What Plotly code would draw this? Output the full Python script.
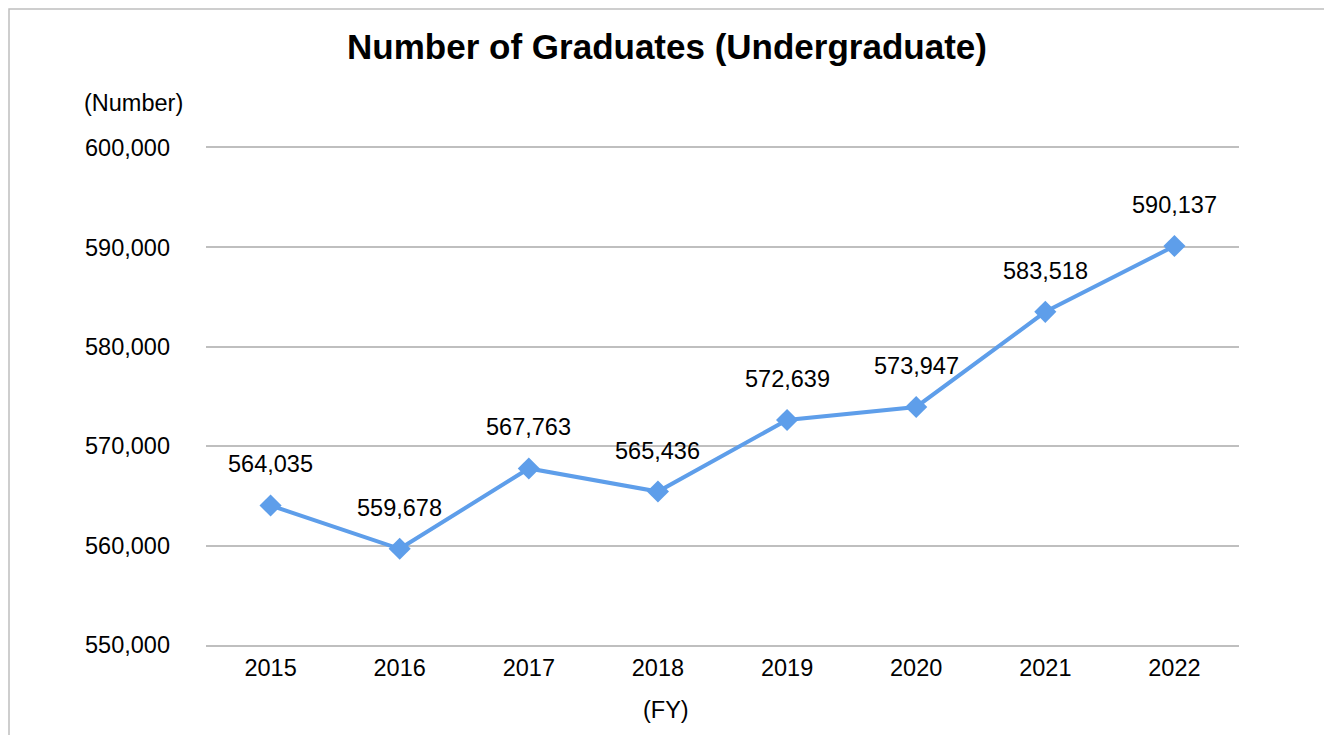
import plotly.graph_objects as go

years = ["2015", "2016", "2017", "2018", "2019", "2020", "2021", "2022"]
graduates = [564035, 559678, 567763, 565436, 572639, 573947, 583518, 590137]
y_ticks = [550000, 560000, 570000, 580000, 590000, 600000]
y_tick_labels = ["550,000", "560,000", "570,000", "580,000", "590,000", "600,000"]

W, H = 1332, 735
OFF = 8  # page body margin offset
L, R, T, B = 206 - OFF, 1239 - OFF, 148 - OFF, 645 - OFF
FONT = "Liberation Sans, Arial"
FS = 23.5


def px_x(px):
    return (px - OFF - L) / (R - L)


def px_y(py):
    return (B - (py - OFF)) / (B - T)


fig = go.Figure()
fig.add_trace(go.Scatter(
    x=years, y=graduates, mode="lines+markers",
    line=dict(color="#5E9EEA", width=4),
    marker=dict(symbol="diamond", size=17, color="#5E9EEA"),
    hoverinfo="skip", showlegend=False,
))

for i, yv in enumerate(graduates):
    fig.add_annotation(x=i, y=yv, xref="x", yref="y", text=f"{yv:,}",
                       showarrow=False, yshift=41, xanchor="center", yanchor="middle",
                       font=dict(size=FS, color="#000000", family=FONT))

fig.add_annotation(xref="paper", yref="paper", x=px_x(133), y=px_y(103),
                   text="(Number)", showarrow=False, xanchor="center", yanchor="middle",
                   font=dict(size=FS, color="#000000", family=FONT))
fig.add_annotation(xref="paper", yref="paper", x=px_x(666), y=px_y(710),
                   text="(FY)", showarrow=False, xanchor="center", yanchor="middle",
                   font=dict(size=FS, color="#000000", family=FONT))

# outer border (kept just inside the figure's own canvas)
fig.add_shape(type="rect", xref="paper", yref="paper",
              x0=px_x(OFF + 1), x1=px_x(1326.5), y0=px_y(800), y1=px_y(OFF + 1),
              line=dict(color="#BFBFBF", width=1.5), layer="below")

fig.update_layout(
    width=W, height=H,
    margin=dict(l=L, r=W - R, t=T, b=H - B, pad=0),
    paper_bgcolor="white", plot_bgcolor="white",
    title=dict(text="<b>Number of Graduates (Undergraduate)</b>",
               x=(667 - OFF) / W, xanchor="center", y=1 - (47 - OFF) / H, yanchor="middle",
               font=dict(size=35, color="#000000", family=FONT)),
    font=dict(family=FONT, size=FS, color="#000000"),
    xaxis=dict(type="category", range=[-0.5, 7.5], showgrid=False,
               showline=True, linecolor="#BFBFBF", linewidth=1.5, mirror=True,
               zeroline=False, ticks="", ticklabelstandoff=1,
               tickfont=dict(size=FS, color="#000000")),
    yaxis=dict(range=[550000, 600000], tickvals=y_ticks, ticktext=y_tick_labels,
               showgrid=True, gridcolor="#BFBFBF", gridwidth=1.5, zeroline=False,
               showline=False, ticks="", ticklabelstandoff=35,
               tickfont=dict(size=FS, color="#000000")),
)

fig.write_html("out.html")
